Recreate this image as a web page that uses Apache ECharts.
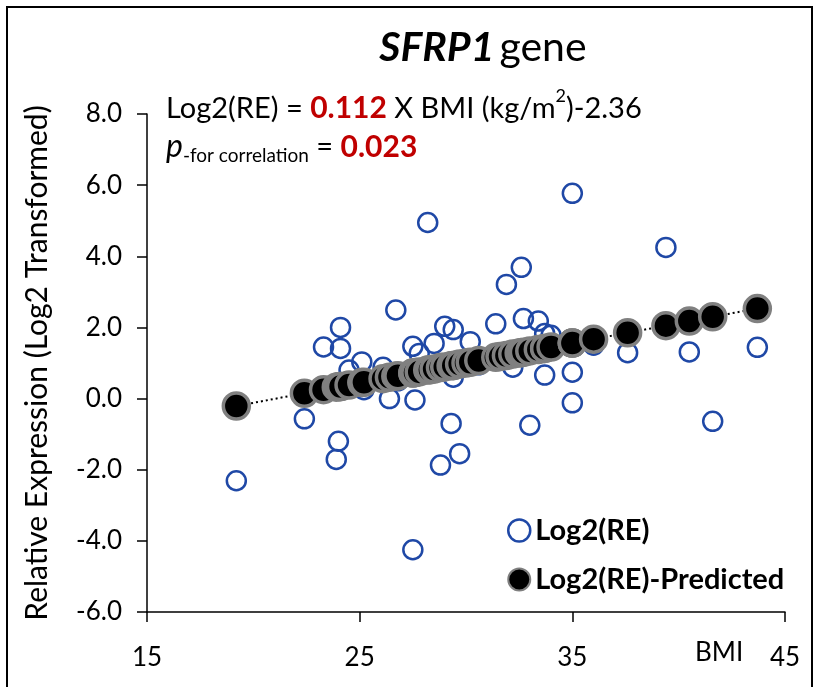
<!DOCTYPE html>
<html>
<head>
<meta charset="utf-8">
<script src="https://cdn.jsdelivr.net/npm/echarts@6/dist/echarts.min.js"></script>
<style>
  html, body { margin: 0; padding: 0; background: #fff; }
  #chart { width: 819px; height: 687px; }
</style>
</head>
<body>
<div id="chart"></div>
<script>
// BMI values (same for observed and predicted)
const bmi = [19.2, 22.4, 23.3, 23.9, 24.0, 24.1, 24.1, 24.5, 25.1, 25.2,
  26.1, 26.4, 26.7, 26.8, 27.5, 27.5, 27.6, 27.8, 28.2, 28.3,
  28.5, 28.8, 29.0, 29.3, 29.4, 29.4, 29.7, 30.0, 30.2, 30.6,
  31.4, 31.6, 31.9, 32.2, 32.5, 32.6, 32.7, 33.0, 33.4, 33.7,
  33.7, 34.0, 35.0, 35.0, 35.0, 36.0, 37.6, 39.4, 40.5, 41.6, 43.7];

// observed Log2(RE)
const logRE = [-2.31, -0.57, 1.45, -1.71, -1.2, 2.0, 1.41, 0.80, 1.03, 0.25,
  0.88, 0.0, 2.49, 0.5, 1.47, -4.25, -0.04, 1.27, 4.95, 0.8,
  1.55, -1.87, 2.03, -0.70, 1.94, 0.6, -1.55, 1.0, 1.6, 0.95,
  2.1, 1.1, 3.21, 0.88, 1.3, 3.69, 2.25, -0.75, 2.18, 1.83,
  0.66, 1.78, 5.77, 0.74, -0.12, 1.5, 1.29, 4.25, 1.31, -0.64, 1.44];

// predicted Log2(RE)
const logREPred = [-0.21, 0.15, 0.25, 0.32, 0.33, 0.34, 0.34, 0.38, 0.45, 0.46,
  0.56, 0.60, 0.63, 0.64, 0.72, 0.72, 0.73, 0.75, 0.80, 0.81,
  0.83, 0.87, 0.89, 0.92, 0.93, 0.93, 0.97, 1.00, 1.02, 1.07,
  1.16, 1.18, 1.21, 1.25, 1.28, 1.29, 1.30, 1.34, 1.38, 1.41,
  1.41, 1.45, 1.56, 1.56, 1.56, 1.67, 1.85, 2.05, 2.18, 2.30, 2.53];

const xTicks = [15, 25, 35, 45];
const yTicks = [-6, -4, -2, 0, 2, 4, 6, 8];

const FONT = 'Lato, "Noto Sans", sans-serif';

const observed = bmi.map((x, i) => [x, logRE[i]]);
const predicted = bmi.map((x, i) => [x, logREPred[i]]);

const chart = echarts.init(document.getElementById('chart'), null, { renderer: 'canvas' });

const option = {
  backgroundColor: '#fff',
  animation: false,
  title: {
    text: '{a|SFRP1} {b|gene}',
    left: 478,
    textAlign: 'center',
    top: 22,
    textStyle: {
      rich: {
        a: { fontFamily: FONT, fontSize: 41, fontWeight: 'bold', fontStyle: 'italic', color: '#000' },
        b: { fontFamily: FONT, fontSize: 41, fontWeight: 'normal', color: '#000' }
      }
    }
  },
  legend: {
    orient: 'vertical',
    left: 502,
    top: 511,
    itemGap: 20,
    itemWidth: 22,
    itemHeight: 22,
    textStyle: { fontFamily: FONT, fontSize: 29, fontWeight: 'bold', color: '#000' },
    data: [
      { name: 'Log2(RE)', icon: 'circle', itemStyle: { color: '#fff', borderColor: '#1F48A6', borderWidth: 2.5, opacity: 1 } },
      { name: 'Log2(RE)-Predicted', icon: 'circle', itemStyle: { color: '#000', borderColor: '#7f7f7f', borderWidth: 2, opacity: 1 } }
    ]
  },
  grid: { left: 147, right: 34, top: 114, bottom: 75 },
  xAxis: {
    type: 'value',
    min: xTicks[0],
    max: xTicks[xTicks.length - 1],
    interval: 10,
    splitLine: { show: false },
    axisLine: { onZero: false, lineStyle: { color: '#000', width: 1.5 } },
    axisTick: { show: true, inside: false, length: 10, lineStyle: { color: '#000', width: 1.5 } },
    axisLabel: { color: '#000', fontFamily: FONT, fontSize: 26, margin: 33, showMinLabel: true, showMaxLabel: true }
  },
  yAxis: {
    type: 'value',
    min: yTicks[0],
    max: yTicks[yTicks.length - 1],
    interval: 2,
    name: 'Relative Expression (Log2 Transformed)',
    nameLocation: 'middle',
    nameGap: 95,
    nameRotate: 90,
    nameTextStyle: { color: '#000', fontFamily: FONT, fontSize: 30 },
    splitLine: { show: false },
    axisLine: { show: true, onZero: false, lineStyle: { color: '#000', width: 1.5 } },
    axisTick: { show: true, inside: false, length: 10, lineStyle: { color: '#000', width: 1.5 } },
    axisLabel: {
      color: '#000', fontFamily: FONT, fontSize: 26, margin: 25,
      formatter: v => v.toFixed(1), showMinLabel: true, showMaxLabel: true
    }
  },
  graphic: [
    {
      type: 'rect',
      shape: { x: 7, y: 7, width: 805, height: 720 },
      style: { fill: 'none', stroke: '#000', lineWidth: 2 },
      silent: true
    },
    {
      type: 'text',
      left: 166,
      top: 87,
      style: {
        text: '{n|Log2(RE) = }{r|0.112}{n| X BMI (kg/m}{s|2}{n|)-2.36}',
        rich: {
          n: { fontFamily: FONT, fontSize: 29, fill: '#000', lineHeight: 36, verticalAlign: 'bottom' },
          r: { fontFamily: FONT, fontSize: 30, fontWeight: 'bold', fill: '#C00000', lineHeight: 36, verticalAlign: 'bottom' },
          s: { fontFamily: FONT, fontSize: 18, fill: '#000', lineHeight: 36, verticalAlign: 'top' }
        }
      }
    },
    {
      type: 'text',
      left: 166,
      top: 131,
      style: {
        text: '{p|p}{sub|-for correlation}{n| = }{r|0.023}',
        rich: {
          p: { fontFamily: FONT, fontSize: 32, fontStyle: 'italic', fill: '#000', lineHeight: 36, verticalAlign: 'middle' },
          sub: { fontFamily: FONT, fontSize: 19, fill: '#000', lineHeight: 36, verticalAlign: 'bottom' },
          n: { fontFamily: FONT, fontSize: 29, fill: '#000', lineHeight: 36, verticalAlign: 'middle' },
          r: { fontFamily: FONT, fontSize: 30, fontWeight: 'bold', fill: '#C00000', lineHeight: 36, verticalAlign: 'middle' }
        }
      }
    },
    {
      type: 'text',
      left: 695,
      top: 640,
      style: { text: 'BMI', fontFamily: FONT, fontSize: 26, fill: '#000' }
    }
  ],
  series: [
    {
      name: 'trend',
      type: 'line',
      data: predicted,
      symbol: 'none',
      lineStyle: { color: '#000', width: 2, type: [2, 3] },
      z: 1,
      silent: true
    },
    {
      name: 'Log2(RE)',
      type: 'scatter',
      data: observed,
      symbol: 'circle',
      symbolSize: 19,
      itemStyle: { color: 'rgba(0,0,0,0)', borderColor: '#1F48A6', borderWidth: 2.5, opacity: 1 },
      z: 2
    },
    {
      name: 'Log2(RE)-Predicted',
      type: 'scatter',
      data: predicted,
      symbol: 'circle',
      symbolSize: 26,
      itemStyle: { color: '#000', borderColor: '#808080', borderWidth: 3.5, opacity: 1 },
      z: 3
    }
  ]
};

chart.setOption(option);
</script>
</body>
</html>
